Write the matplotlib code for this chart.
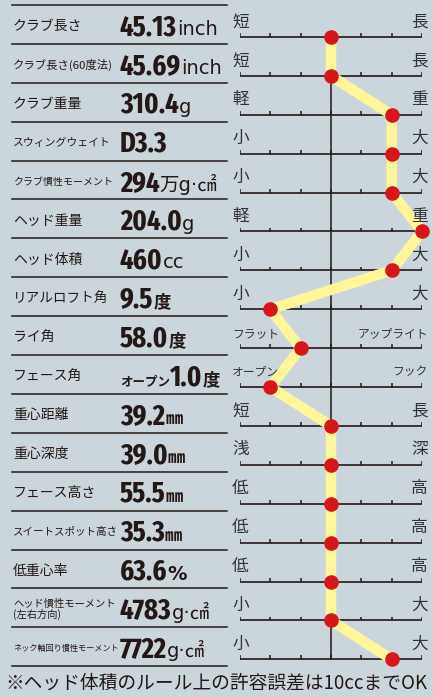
import os

import matplotlib
matplotlib.use("Agg")
import matplotlib.pyplot as plt
from matplotlib import font_manager
from matplotlib.font_manager import FontProperties
from matplotlib.textpath import TextPath

# data
labels = [
    "クラブ長さ", "クラブ長さ(60度法)", "クラブ重量", "スウィングウェイト",
    "クラブ慣性モーメント", "ヘッド重量", "ヘッド体積", "リアルロフト角", "ライ角",
    "フェース角", "重心距離", "重心深度", "フェース高さ", "スイートスポット高さ",
    "低重心率", "ヘッド慣性モーメント\n(左右方向)", "ネック軸回り慣性モーメント",
]
prefixes = ["", "", "", "", "", "", "", "", "", "オープン", "", "", "", "", "", "", ""]
numbers = ["45.13", "45.69", "310.4", "D3.3", "294", "204.0", "460", "9.5", "58.0",
           "1.0", "39.2", "39.0", "55.5", "35.3", "63.6", "4783", "7722"]
units = ["inch", "inch", "g", "", "万g·㎠", "g", "cc", "度", "度",
         "度", "㎜", "㎜", "㎜", "㎜", "%", "g·㎠", "g·㎠"]
positions = [0, 0, 2, 2, 2, 3, 2, -2, -1, -2, 0, 0, 0, 0, 0, 0, 2]
left_ends = ["短", "短", "軽", "小", "小", "軽", "小", "小", "フラット", "オープン",
             "短", "浅", "低", "低", "低", "小", "小"]
right_ends = ["長", "長", "重", "大", "大", "重", "大", "大", "アップライト", "フック",
              "長", "深", "高", "高", "高", "大", "大"]
note = "※ヘッド体積のルール上の許容誤差は10ccまでOK"

label_sizes = [10, 8.2, 10, 7.8, 7.2, 10, 10, 9.8, 10, 10, 10, 10, 10, 7.6, 10, 7.4, 5.9]

BG = "#CBD5DC"
INK = "#231815"
JP = ["Noto Sans CJK JP", "DejaVu Sans"]
UNIT = ["DejaVu Sans", "Noto Sans CJK JP"]


def narrow_rank(path):
    name = os.path.basename(path).lower()
    if "extracondensed" in name:
        return 0
    if "narrow" in name or "robotocondensed" in name:
        return 1
    if "dejavu" in name:
        return 4
    if "semicondensed" in name:
        return 3
    return 2


# pick the narrowest bold face installed for the big numbers
cands = [f for f in font_manager.fontManager.ttflist
         if ("narrow" in f.fname.lower() or "condensed" in f.fname.lower())
         and str(f.weight) in ("bold", "700") and f.style == "normal"
         and "italic" not in f.fname.lower()]
cands.sort(key=lambda f: (narrow_rank(f.fname), f.fname))
if cands:
    num_font = FontProperties(fname=cands[0].fname)
else:
    num_font = FontProperties(family="Liberation Sans", weight="bold")
ext_h = TextPath((0, 0), "4", size=1, prop=num_font).get_extents().height
ext_w = TextPath((0, 0), "45.13", size=1, prop=num_font).get_extents().width
size_h = 20 / ext_h * 72 / 100
size_w = 58 / ext_w * 72 / 100
num_font.set_size(min(size_h, size_w * 1.08))

n = len(labels)
rows = list(range(n))
ylim = (16.967, -0.951)

fig = plt.figure(figsize=(4.33, 6.97), dpi=100, facecolor=BG)
bg = fig.add_axes([0, 0, 1, 1])
bg.set_xlim(0, 433)
bg.set_ylim(*ylim)
bg.axis("off")

# separators
for i in range(n + 1):
    bg.plot([12, 227], [i - 0.823, i - 0.823], color=INK, lw=1.1)

for i in rows:
    bg.text(13, i - 0.28, labels[i], fontsize=label_sizes[i], family=JP,
            color=INK, ha="left", va="center", linespacing=1.0)
    if prefixes[i]:
        prev = bg.text(120, i - 0.05, prefixes[i], fontsize=9, family=JP,
                       fontweight="bold", color=INK, ha="left", va="baseline")
        num = bg.annotate(numbers[i], xy=(1, i - 0.05), xycoords=(prev, bg.transData),
                          fontproperties=num_font, color=INK,
                          ha="left", va="baseline")
    else:
        num = bg.text(120, i - 0.05, numbers[i], fontproperties=num_font,
                      color=INK, ha="left", va="baseline")
    if units[i]:
        if units[i] in ("度", "㎜"):
            fam, sz, fw = ["Noto Sans CJK JP"], 12.5, "bold"
        elif units[i] == "%":
            fam, sz, fw = UNIT, 14, "bold"
        else:
            fam, sz, fw = UNIT, 14, "normal"
        bg.annotate(units[i], xy=(1, i - 0.05), xycoords=(num, bg.transData),
                    xytext=(0, 0), textcoords="offset pixels",
                    fontsize=sz, family=fam, fontweight=fw, color=INK,
                    ha="left", va="baseline")

bg.text(5, 16.6, note, fontsize=13.5, family=JP, color=INK, ha="left", va="center")

# scale chart
ax = fig.add_axes([240 / 433, 0, 182 / 433, 1])
ax.set_xlim(-3, 3)
ax.set_ylim(*ylim)
ax.axis("off")

ax.vlines(0, 0, n - 1, color=INK, lw=1.1, zorder=1)
for i in rows:
    ax.hlines(i, -3, 3, color=INK, lw=1.2, zorder=1)
    ax.vlines(range(-3, 4), i - 0.1, i, color=INK, lw=1.1, zorder=1)
    lsz = 12 if len(left_ends[i]) == 1 else 8.5
    rsz = 12 if len(right_ends[i]) == 1 else 8.5
    ax.annotate(left_ends[i], xy=(-3, i), xytext=(-8, 15), textcoords="offset pixels",
                fontsize=lsz, family=JP, color="#333333", ha="left", va="center")
    ax.annotate(right_ends[i], xy=(3, i), xytext=(6, 15), textcoords="offset pixels",
                fontsize=rsz, family=JP, color="#333333", ha="right", va="center")

ax.plot(positions, rows, color="#FFF59A", lw=7.5, solid_capstyle="round",
        solid_joinstyle="round", zorder=2, clip_on=False)
ax.plot(positions, rows, "o", color="#D7161C", ms=10.5, mew=0, zorder=3, clip_on=False)

fig.savefig("out.png", dpi=100, facecolor=BG)
